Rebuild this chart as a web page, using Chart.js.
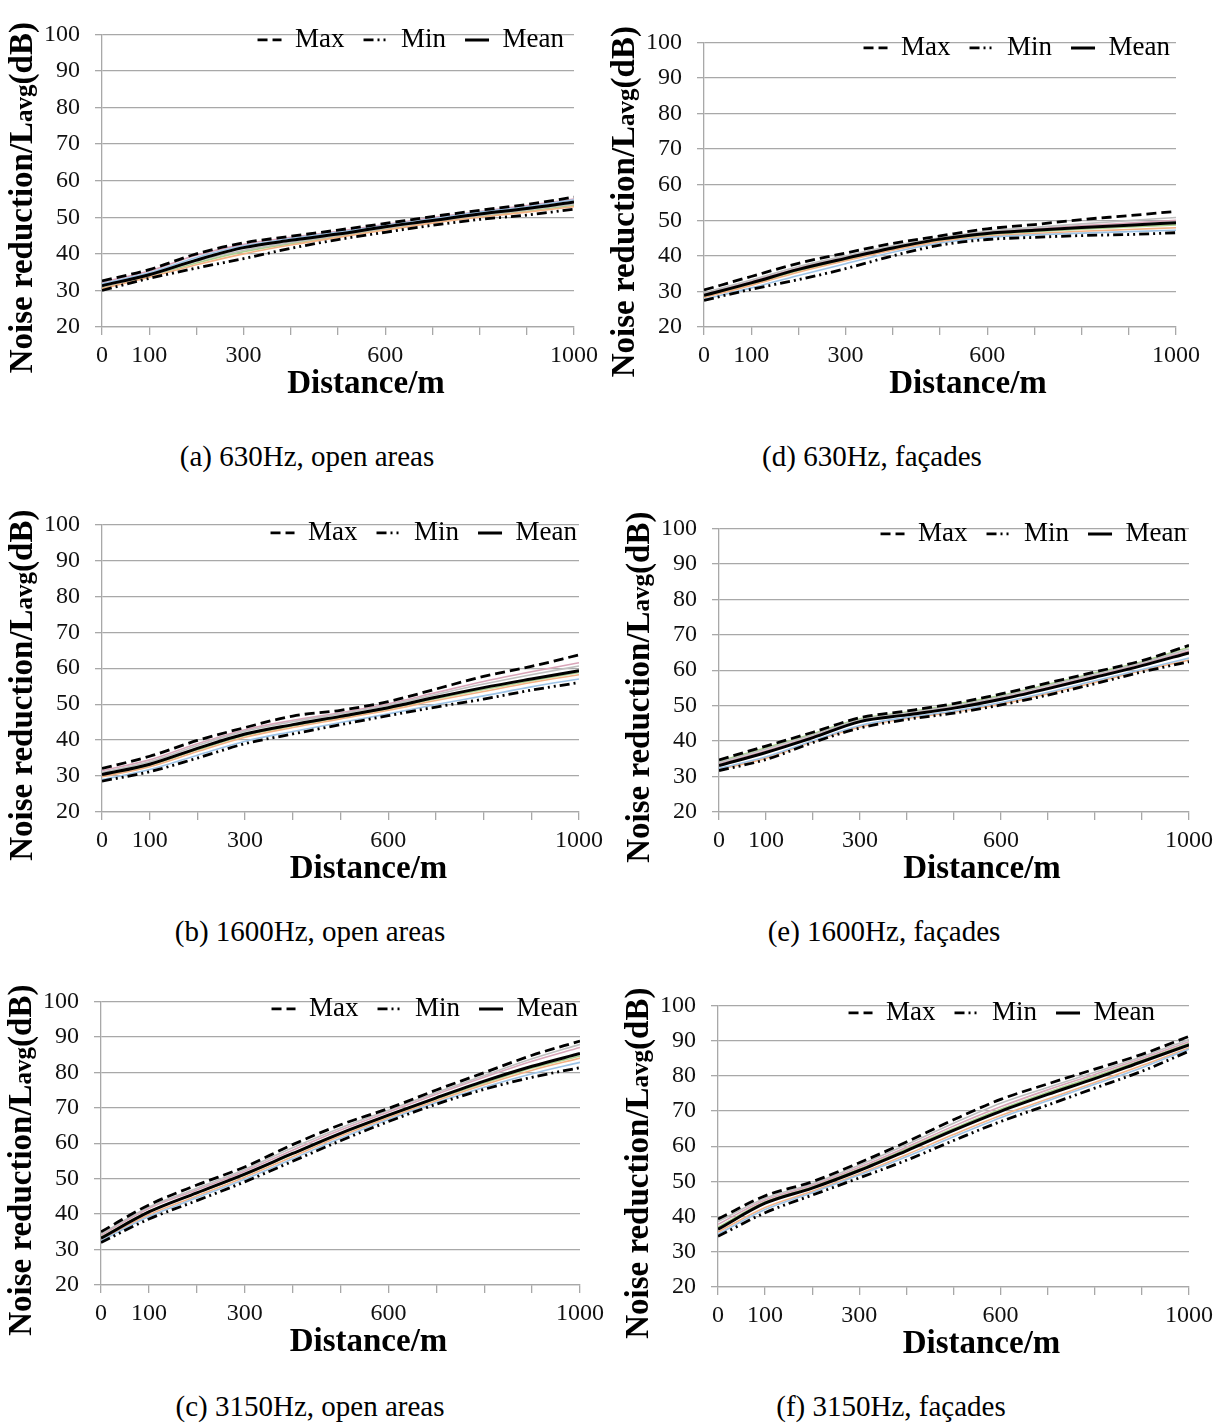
<!DOCTYPE html>
<html>
<head>
<meta charset="utf-8">
<script src="https://cdn.jsdelivr.net/npm/chart.js@4.4.1/dist/chart.umd.min.js"></script>
<style>
  body { margin: 0; background: #fff; width: 1224px; height: 1423px; position: relative; overflow: hidden; }
  canvas { position: absolute; }
  .cap { position: absolute; font: 29px "Liberation Serif", "Times New Roman", serif; color: #000;
         white-space: nowrap; transform: translateX(-50%); line-height: 30px; }
</style>
</head>
<body>
<script>
// distance along the x axis (m)
const distances = [0, 100, 200, 300, 400, 500, 600, 700, 800, 900, 1000];
const xTickLabels = [0, 100, 300, 600, 1000];
const legendLabels = ['Max', 'Min', 'Mean'];
const yTitleParts = ['Noise reduction/L', 'avg', '(dB)'];
const xTitle = 'Distance/m';
const siteColors = ['#9dc3e6', '#f4b183', '#bfbfbf', '#d9a5b9', '#a9d18e'];

// (a) 630Hz, open areas
const maxA  = [32.6, 35.7, 40.0, 43.0, 44.8, 46.5, 48.3, 50.2, 51.9, 53.5, 55.5];
const minA  = [30.0, 33.3, 36.1, 38.7, 41.5, 43.9, 45.9, 47.8, 49.4, 50.6, 52.2];
const meanA = [31.3, 34.3, 38.3, 41.7, 43.7, 45.4, 47.4, 49.1, 50.9, 52.4, 54.2];
const sitesA = [
  [31.8, 34.8, 39.0, 42.2, 44.2, 45.9, 47.8, 49.6, 51.4, 52.9, 54.8],
  [30.5, 33.6, 37.0, 40.0, 42.4, 44.5, 46.5, 48.4, 50.0, 51.4, 52.9],
  [31.0, 34.0, 38.0, 41.0, 43.1, 45.0, 47.0, 48.8, 50.5, 52.0, 53.6],
  [32.2, 35.3, 39.6, 42.6, 44.5, 46.2, 48.0, 49.9, 51.6, 53.2, 55.0],
  [30.8, 33.9, 37.5, 40.6, 42.8, 44.8, 46.8, 48.6, 50.2, 51.7, 53.3]
];

// (d) 630Hz, facades
const maxD  = [30.4, 34.2, 37.9, 40.8, 43.5, 45.6, 47.6, 48.8, 50.2, 51.3, 52.5];
const minD  = [27.5, 30.6, 33.3, 36.4, 40.0, 43.0, 44.6, 45.2, 45.7, 46.0, 46.5];
const meanD = [28.9, 32.4, 36.2, 39.3, 42.2, 44.7, 46.3, 47.2, 48.0, 48.6, 49.3];
const sitesD = [
  [27.8, 31.0, 34.5, 37.8, 41.0, 43.6, 45.2, 45.9, 46.4, 46.8, 47.2],
  [28.3, 31.7, 35.4, 38.6, 41.6, 44.0, 45.5, 46.3, 46.9, 47.4, 47.9],
  [29.6, 33.2, 37.0, 40.0, 42.8, 45.1, 46.9, 48.0, 49.0, 49.9, 50.8],
  [29.2, 32.8, 36.6, 39.7, 42.5, 44.9, 46.6, 47.6, 48.5, 49.2, 50.0],
  [28.6, 32.0, 35.8, 38.9, 41.9, 44.3, 45.9, 46.8, 47.5, 48.1, 48.7]
];

// (b) 1600Hz, open areas
const maxB  = [32.1, 35.5, 39.9, 43.5, 46.7, 48.3, 50.7, 54.2, 57.7, 60.5, 63.7];
const minB  = [28.6, 31.2, 35.0, 39.0, 41.7, 44.3, 46.8, 49.2, 51.4, 53.9, 56.0];
const meanB = [30.4, 33.3, 37.7, 41.7, 44.3, 46.6, 49.0, 51.9, 54.6, 57.0, 59.3];
const sitesB = [
  [29.0, 31.8, 35.8, 39.7, 42.4, 44.9, 47.3, 49.9, 52.3, 54.8, 57.0],
  [29.8, 32.6, 36.8, 40.8, 43.5, 45.9, 48.3, 51.0, 53.5, 56.0, 58.2],
  [31.0, 34.0, 38.5, 42.5, 45.1, 47.3, 49.7, 52.7, 55.6, 58.2, 60.6],
  [31.5, 34.5, 39.0, 42.9, 45.5, 47.6, 50.1, 53.2, 56.3, 59.0, 61.5],
  [30.1, 33.0, 37.3, 41.3, 43.9, 46.3, 48.7, 51.5, 54.1, 56.5, 58.8]
];

// (e) 1600Hz, facades
const maxE  = [34.7, 38.6, 42.5, 46.6, 48.5, 50.6, 53.3, 56.4, 59.5, 62.7, 67.0];
const minE  = [31.7, 34.8, 39.6, 43.7, 46.1, 47.9, 50.2, 53.0, 56.2, 59.5, 62.4];
const meanE = [33.1, 36.8, 41.0, 45.5, 47.4, 49.3, 51.8, 54.8, 58.0, 61.3, 64.9];
const sitesE = [
  [32.3, 35.6, 40.1, 44.4, 46.7, 48.5, 50.9, 53.8, 57.0, 60.2, 63.4],
  [32.0, 35.2, 39.9, 44.0, 46.4, 48.2, 50.5, 53.4, 56.6, 59.9, 62.9],
  [34.0, 37.8, 41.8, 46.0, 48.0, 50.0, 52.6, 55.7, 58.9, 62.1, 66.0],
  [33.6, 37.3, 41.4, 45.8, 47.7, 49.7, 52.2, 55.2, 58.5, 61.8, 65.4],
  [34.3, 38.1, 42.1, 46.3, 48.2, 50.3, 52.9, 56.0, 59.2, 62.4, 66.5]
];

// (c) 3150Hz, open areas
const maxC  = [35.0, 42.6, 48.2, 53.3, 59.6, 65.2, 69.8, 75.0, 79.9, 84.8, 88.8];
const minC  = [32.0, 38.6, 43.8, 49.1, 54.9, 60.7, 66.1, 71.0, 75.2, 78.6, 81.3];
const meanC = [33.2, 40.6, 46.0, 51.3, 57.1, 62.8, 67.9, 72.8, 77.5, 81.7, 85.3];
const sitesC = [
  [32.5, 39.3, 44.6, 49.8, 55.6, 61.4, 66.7, 71.5, 75.8, 79.6, 82.8],
  [32.8, 39.8, 45.1, 50.4, 56.2, 62.0, 67.2, 72.0, 76.5, 80.6, 84.0],
  [34.4, 42.0, 47.3, 52.6, 58.7, 64.3, 69.3, 74.3, 79.1, 83.8, 87.9],
  [34.0, 41.6, 46.8, 52.1, 58.0, 63.7, 68.8, 73.8, 78.6, 83.1, 87.0],
  [33.5, 40.8, 45.9, 51.0, 56.9, 62.6, 67.7, 72.5, 77.0, 81.2, 84.6]
];

// (f) 3150Hz, facades
const maxF  = [39.3, 45.9, 49.9, 55.3, 61.2, 67.5, 73.3, 77.7, 81.9, 86.1, 91.2];
const minF  = [34.4, 41.1, 46.1, 51.0, 56.0, 61.6, 67.0, 71.7, 76.5, 81.3, 87.0];
const meanF = [36.4, 43.8, 48.1, 53.1, 58.7, 64.5, 69.9, 74.7, 79.2, 84.0, 88.8];
const sitesF = [
  [35.0, 42.0, 46.8, 51.8, 57.0, 62.7, 68.1, 72.9, 77.6, 82.3, 87.6],
  [35.6, 42.6, 47.2, 52.2, 57.6, 63.3, 68.7, 73.4, 78.1, 82.9, 88.0],
  [38.6, 45.2, 49.3, 54.6, 60.4, 66.5, 72.2, 76.7, 81.0, 85.4, 90.3],
  [37.8, 44.7, 48.9, 54.0, 59.7, 65.7, 71.2, 76.0, 80.4, 84.9, 89.7],
  [37.0, 44.2, 48.5, 53.5, 59.2, 65.0, 70.5, 75.3, 79.8, 84.4, 89.2]
];

// panel placement: column box, plot area edges, caption
const panels = [
  { max: maxA, min: minA, mean: meanA, sites: sitesA, colX: 0,   colW: 610, left: 102, right: 574,  top: 20,  bottom: 327,  legendEnd: -10, legendUp: 12, caption: '(a) 630Hz, open areas',  capX: 307, capY: 456 },
  { max: maxD, min: minD, mean: meanD, sites: sitesD, colX: 610, colW: 614, left: 704, right: 1176, top: 28,  bottom: 327,  legendEnd: -6,  legendUp: 12, caption: '(d) 630Hz, façades',     capX: 872, capY: 456 },
  { max: maxB, min: minB, mean: meanB, sites: sitesB, colX: 0,   colW: 610, left: 102, right: 579,  top: 510, bottom: 812,  legendEnd: -2,  legendUp: 9,  caption: '(b) 1600Hz, open areas', capX: 310, capY: 931 },
  { max: maxE, min: minE, mean: meanE, sites: sitesE, colX: 610, colW: 614, left: 719, right: 1189, top: 514, bottom: 812,  legendEnd: -2,  legendUp: 12, caption: '(e) 1600Hz, façades',    capX: 884, capY: 931 },
  { max: maxC, min: minC, mean: meanC, sites: sitesC, colX: 0,   colW: 610, left: 101, right: 580,  top: 987, bottom: 1285, legendEnd: -2,  legendUp: 10, caption: '(c) 3150Hz, open areas', capX: 310, capY: 1406 },
  { max: maxF, min: minF, mean: meanF, sites: sitesF, colX: 610, colW: 614, left: 718, right: 1189, top: 991, bottom: 1287, legendEnd: -34, legendUp: 10, caption: '(f) 3150Hz, façades',    capX: 891, capY: 1406 }
];

const legendH = 15;
const xAxisH = 80;
const legendPad = 19;
const gridColor = '#a8a8a8';
const serif = '"Liberation Serif", "Times New Roman", serif';

Chart.defaults.font.family = serif;
Chart.defaults.color = '#000';

// axis titles: y title has a smaller "avg", x title sits a little right of centre
const titlesPlugin = {
  id: 'titles',
  afterDraw(chart, args, opts) {
    const { ctx, chartArea } = chart;
    const big = 'bold 33px ' + serif;
    const small = 'bold 25px ' + serif;
    const parts = [[yTitleParts[0], big], [yTitleParts[1], small], [yTitleParts[2], big]];
    ctx.save();
    ctx.fillStyle = '#000';
    let total = 0;
    parts.forEach(p => { ctx.font = p[1]; p.push(ctx.measureText(p[0]).width); total += p[2]; });
    ctx.save();
    ctx.translate(opts.yx, (chartArea.top + chartArea.bottom) / 2 + opts.dy);
    ctx.rotate(-Math.PI / 2);
    ctx.textBaseline = 'alphabetic';
    let x = -total / 2;
    parts.forEach(p => { ctx.font = p[1]; ctx.fillText(p[0], x, 0); x += p[2]; });
    ctx.restore();
    ctx.font = big;
    ctx.textAlign = 'center';
    ctx.textBaseline = 'middle';
    ctx.fillText(xTitle, (chartArea.left + chartArea.right) / 2 + opts.dx, chartArea.bottom + 57);
    ctx.restore();
  }
};

// legend sits inside the plot: give it a small slot, then open its clip box and move it
function legendSlot(height, shiftX, shiftUp) {
  return {
    id: 'legendSlot',
    beforeLayout(chart) {
      const lg = chart.legend;
      if (!lg || lg.$slot) return;
      const fit = lg.fit;
      lg.fit = function () { fit.call(this); this.height = height; };
      lg.$slot = true;
    },
    afterLayout(chart) {
      const lg = chart.legend;
      lg.left += shiftX;
      lg.right += shiftX;
      lg.top -= shiftUp;
      lg.height = 70;
      lg.bottom = lg.top + 70;
    }
  };
}

// legend samples take the dash and width of their own line
function legendItems(chart) {
  const items = Chart.defaults.plugins.legend.labels.generateLabels(chart);
  items.forEach(it => {
    const ds = chart.data.datasets[it.datasetIndex];
    it.lineDash = ds.borderDash || [];
    it.lineWidth = ds.borderWidth;
    it.strokeStyle = ds.borderColor;
    it.fillStyle = ds.borderColor;
  });
  return items;
}

const pts = arr => distances.map((x, i) => ({ x: x, y: arr[i] }));

panels.forEach(p => {
  const canvas = document.createElement('canvas');
  const top = p.top - legendH;
  canvas.width = p.colW;
  canvas.height = p.bottom - top + xAxisH;
  canvas.style.left = p.colX + 'px';
  canvas.style.top = top + 'px';
  document.body.appendChild(canvas);

  const cap = document.createElement('div');
  cap.className = 'cap';
  cap.textContent = p.caption;
  cap.style.left = p.capX + 'px';
  cap.style.top = (p.capY - 15) + 'px';
  document.body.appendChild(cap);

  const datasets = [
    { label: legendLabels[0], data: pts(p.max), borderColor: '#000', borderWidth: 2.8, borderDash: [10, 5] },
    { label: legendLabels[1], data: pts(p.min), borderColor: '#000', borderWidth: 2.8, borderDash: [10, 4, 2, 4, 2, 4] },
    { label: legendLabels[2], data: pts(p.mean), borderColor: '#000', borderWidth: 3 }
  ];
  p.sites.forEach((s, i) => {
    datasets.push({ label: 'site' + (i + 1), data: pts(s), borderColor: siteColors[i], borderWidth: 1.6 });
  });
  datasets.forEach(d => {
    d.pointRadius = 0;
    d.fill = false;
    d.cubicInterpolationMode = 'monotone';
  });

  new Chart(canvas, {
    type: 'line',
    data: { datasets: datasets },
    options: {
      responsive: false,
      animation: false,
      events: [],
      layout: { padding: { left: 0, right: p.colX + p.colW - p.right, top: 0, bottom: 0 } },
      scales: {
        x: {
          type: 'linear',
          min: 0,
          max: 1000,
          afterFit: s => { s.height = xAxisH; },
          ticks: {
            stepSize: 100,
            autoSkip: false,
            maxRotation: 0,
            padding: 6,
            color: '#111',
            font: { family: serif, size: 24 },
            callback: v => xTickLabels.includes(v) ? String(v) : ''
          },
          grid: { drawOnChartArea: false, drawTicks: true, tickLength: 8, color: gridColor, lineWidth: 1.3 },
          border: { color: gridColor, width: 1.3 }
        },
        y: {
          min: 20,
          max: 100,
          afterFit: s => { s.width = p.left - p.colX; },
          ticks: { stepSize: 10, padding: 15, color: '#111', font: { family: serif, size: 24 } },
          grid: { color: gridColor, lineWidth: 1.3, tickLength: 7 },
          border: { color: gridColor, width: 1.3 }
        }
      },
      plugins: {
        tooltip: { enabled: false },
        titles: { yx: p.left - p.colX - 70, dy: 17, dx: 28 },
        legend: {
          position: 'top',
          align: 'end',
          labels: {
            usePointStyle: true,
            pointStyle: 'line',
            pointStyleWidth: 24,
            padding: legendPad,
            color: '#000',
            font: { family: serif, size: 27 },
            generateLabels: legendItems,
            filter: item => item.datasetIndex < 3
          }
        }
      }
    },
    plugins: [titlesPlugin, legendSlot(legendH, legendPad + p.legendEnd, p.legendUp)]
  });
});
</script>
</body>
</html>
